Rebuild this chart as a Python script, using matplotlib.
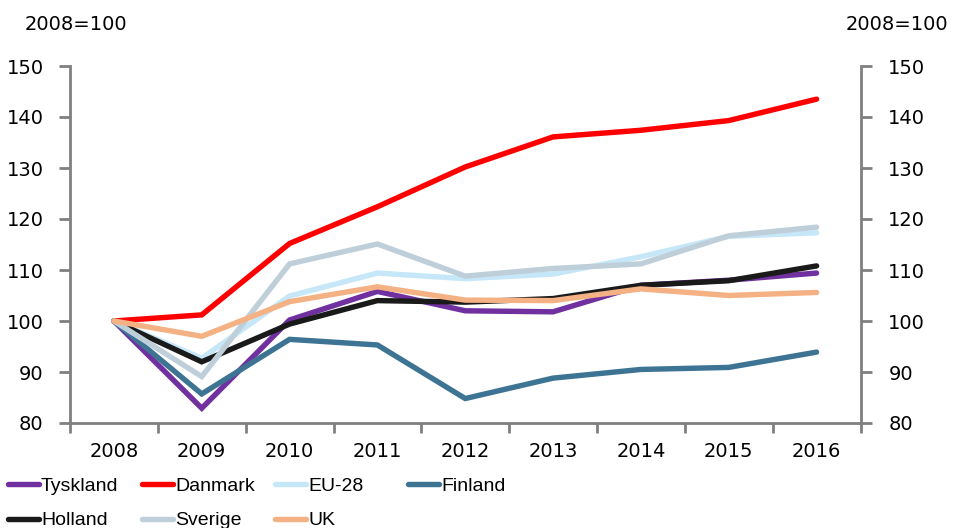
import matplotlib
matplotlib.use("Agg")
import matplotlib.pyplot as plt

years = ["2008", "2009", "2010", "2011", "2012", "2013", "2014", "2015", "2016"]
tyskland = [100, 82.9, 100.2, 105.8, 102.0, 101.8, 107.0, 108.0, 109.4]
danmark = [100, 101.2, 115.2, 122.4, 130.2, 136.1, 137.4, 139.3, 143.5]
eu28 = [100, 92.7, 104.9, 109.4, 108.3, 109.2, 112.6, 116.6, 117.3]
finland = [100, 85.7, 96.4, 95.3, 84.8, 88.8, 90.5, 90.9, 93.9]
holland = [100, 92.0, 99.4, 104.0, 103.7, 104.4, 107.0, 107.9, 110.8]
sverige = [100, 89.1, 111.2, 115.1, 108.8, 110.3, 111.2, 116.7, 118.4]
uk = [100, 97.0, 103.8, 106.7, 104.1, 104.0, 106.3, 105.0, 105.6]

series_names = ["Tyskland", "Danmark", "EU-28", "Finland", "Holland", "Sverige", "UK"]
series_values = [tyskland, danmark, eu28, finland, holland, sverige, uk]
colors = ["#7030A0", "#FF0000", "#C6E7F8", "#3E7493", "#1A1A1A", "#BFCFDA", "#F4B183"]
yticks = [80, 90, 100, 110, 120, 130, 140, 150]

plt.rcParams['font.family'] = ['DejaVu Sans']
fig = plt.figure(figsize=(9.55, 5.28), dpi=100)
ax = fig.add_axes([70/955, 1-423/528, 790.5/955, (423-66)/528])

x = list(range(len(years)))
handles = {}
for name, vals, c in zip(series_names, series_values, colors):
    ln, = ax.plot(x, vals, color=c, lw=3.9, solid_capstyle='round',
                  solid_joinstyle='miter', label=name)
    handles[name] = ln

gray = '#808080'
ax.set_xlim(-0.5, len(years) - 0.5)
ax.set_ylim(80, 150)
ax.set_yticks(yticks)
ax.set_xticks(x)
ax.set_xticklabels(years)
ax.set_xticks([i - 0.5 for i in range(len(years) + 1)], minor=True)
ax.tick_params(axis='x', which='major', length=0, pad=14, labelsize=14)
ax.tick_params(axis='x', which='minor', length=7, width=2, color=gray, direction='out')
ax.tick_params(axis='y', length=8, width=2, color=gray, direction='out', pad=11, labelsize=14)

ax.spines['top'].set_visible(False)
ax.spines['right'].set_visible(False)
ax.spines['left'].set_color(gray)
ax.spines['left'].set_linewidth(2)
ax.spines['bottom'].set_color(gray)
ax.spines['bottom'].set_linewidth(2)

ax2 = ax.twinx()
ax2.set_ylim(80, 150)
ax2.set_yticks(yticks)
ax2.tick_params(axis='y', length=8, width=2, color=gray, direction='out', pad=12, labelsize=14)
for s in ['top', 'left', 'bottom']:
    ax2.spines[s].set_visible(False)
ax2.spines['right'].set_color(gray)
ax2.spines['right'].set_linewidth(2)

fig.text(25/955, 1-24/528, "2008=100", fontsize=14, ha='left', va='center')
fig.text(948/955, 1-24/528, "2008=100", fontsize=14, ha='right', va='center')

# legend columns
columns = [["Tyskland", "Holland"], ["Danmark", "Sverige"], ["EU-28", "UK"], ["Finland"]]
col_x = [8, 142, 275, 408]
for cx, names in zip(col_x, columns):
    leg = fig.legend([handles[n] for n in names], names, loc='upper left',
                     bbox_to_anchor=(cx/955, 1-477/528), frameon=False,
                     prop={'family': 'Liberation Sans', 'size': 14},
                     handlelength=1.6, handletextpad=0.1,
                     borderaxespad=0, borderpad=0, labelspacing=0.88)

fig.savefig("out.png", dpi=100)
